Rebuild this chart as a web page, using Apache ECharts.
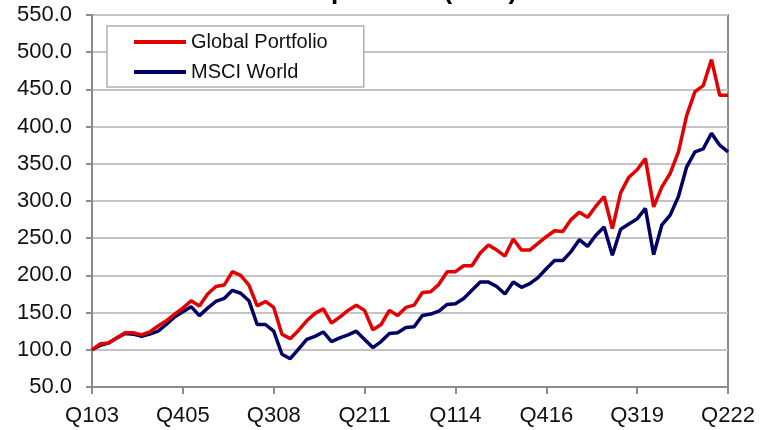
<!DOCTYPE html>
<html>
<head>
<meta charset="utf-8">
<script src="https://cdn.jsdelivr.net/npm/echarts@6/dist/echarts.min.js"></script>
<style>html,body{margin:0;padding:0;background:#fff;}#c{width:760px;height:430px;}</style>
</head>
<body>
<div id="c"></div>
<script>
var titleText = 'Global portfolio (GBP)';
var seriesNames = ['Global Portfolio', 'MSCI World'];
var categories = [
 'Q103','Q203','Q303','Q403','Q104','Q204','Q304','Q404','Q105','Q205','Q305','Q405',
 'Q106','Q206','Q306','Q406','Q107','Q207','Q307','Q407','Q108','Q208','Q308','Q408',
 'Q109','Q209','Q309','Q409','Q110','Q210','Q310','Q410','Q111','Q211','Q311','Q411',
 'Q112','Q212','Q312','Q412','Q113','Q213','Q313','Q413','Q114','Q214','Q314','Q414',
 'Q115','Q215','Q315','Q415','Q116','Q216','Q316','Q416','Q117','Q217','Q317','Q417',
 'Q118','Q218','Q318','Q418','Q119','Q219','Q319','Q419','Q120','Q220','Q320','Q420',
 'Q121','Q221','Q321','Q421','Q122','Q222'
];
var globalPortfolio = [
 100,108,109,116,123,123,120,124,132,139,148,156,
 166,159,175,185,187,205,200,187,159,165,157,121,
 115,126,139,149,155,136,144,153,160,153,127,134,
 153,146,157,160,177,178,188,205,205,213,213,230,
 241,234,226,249,234,234,243,252,260,259,275,285,
 278,293,306,263,311,332,342,357,292,319,337,366,
 415,447,455,490,442,442
];
var msciWorld = [
 100,106,109,116,122,121,118,121,125,134,144,151,
 158,146,156,165,169,180,176,166,134,134,125,94,
 88,101,114,118,124,111,116,120,125,114,103,111,
 122,123,130,131,146,148,152,161,162,169,180,191,
 191,185,175,191,184,189,197,209,220,220,232,248,
 239,254,265,227,262,269,276,290,228,268,281,306,
 346,366,370,391,375,366
];
var yMin = 50, yMax = 550, yStep = 50;

var chart = echarts.init(document.getElementById('c'), null, {renderer: 'canvas'});
var font = '"Liberation Sans", Arial, sans-serif';
chart.setOption({
  animation: false,
  backgroundColor: '#ffffff',
  title: {
    text: titleText, left: 'center', top: -26,
    textStyle: {fontFamily: font, fontSize: 26, fontWeight: 'bold', color: '#000'}
  },
  grid: {
    left: 92, right: 32, top: 15, bottom: 43,
    show: true, borderColor: '#8c8c8c', borderWidth: 2, backgroundColor: 'transparent'
  },
  legend: {
    orient: 'vertical', left: 107, top: 26,
    padding: [6, 36, 5, 27], itemGap: 10,
    backgroundColor: '#ffffff', borderColor: '#b0b0b0', borderWidth: 1.5,
    icon: 'rect', itemWidth: 52, itemHeight: 4,
    textStyle: {fontFamily: font, fontSize: 20, color: '#111'},
    data: seriesNames
  },
  xAxis: {
    type: 'category', data: categories, boundaryGap: false,
    axisLine: {lineStyle: {color: '#8c8c8c', width: 2}},
    axisTick: {show: true, interval: 10, length: 7, lineStyle: {color: '#8c8c8c', width: 2}},
    axisLabel: {interval: 10, margin: 18, fontFamily: font, fontSize: 22, color: '#111'},
    splitLine: {show: false}
  },
  yAxis: {
    type: 'value', min: yMin, max: yMax, interval: yStep,
    axisLine: {show: true, lineStyle: {color: '#8c8c8c', width: 2}},
    axisTick: {show: true, length: 6, lineStyle: {color: '#8c8c8c', width: 2}},
    axisLabel: {margin: 20, fontFamily: font, fontSize: 22, color: '#111',
      formatter: function (v) { return v.toFixed(1); }},
    splitLine: {lineStyle: {color: '#c4c4c4', width: 2}}
  },
  series: [
    {name: seriesNames[0], type: 'line', data: globalPortfolio, symbol: 'none',
     lineStyle: {color: '#e30000', width: 3.5}, itemStyle: {color: '#e30000'}, z: 3},
    {name: seriesNames[1], type: 'line', data: msciWorld, symbol: 'none',
     lineStyle: {color: '#000066', width: 3.5}, itemStyle: {color: '#000066'}, z: 2}
  ]
});
</script>
</body>
</html>
